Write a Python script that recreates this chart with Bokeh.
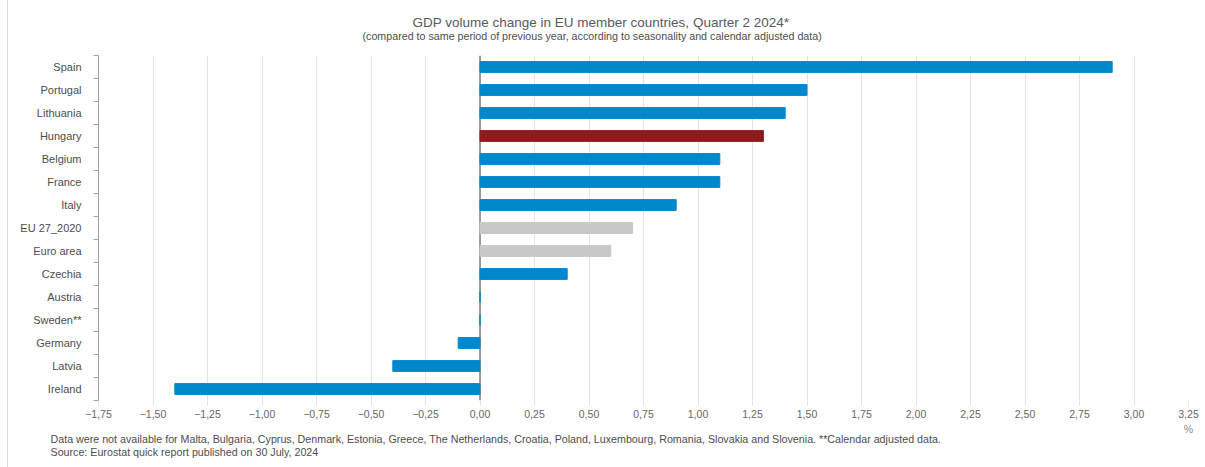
from bokeh.plotting import figure
from bokeh.models import (Range1d, LinearAxis, FixedTicker, Span, Title, ColumnDataSource)
from bokeh.embed import file_html
from bokeh.resources import INLINE

categories = ["Spain", "Portugal", "Lithuania", "Hungary", "Belgium", "France", "Italy",
              "EU 27_2020", "Euro area", "Czechia", "Austria", "Sweden**", "Germany",
              "Latvia", "Ireland"]
values = [2.9, 1.5, 1.4, 1.3, 1.1, 1.1, 0.9, 0.7, 0.6, 0.4, 0.0, 0.0, -0.1, -0.4, -1.4]
kinds = ["country", "country", "country", "highlight", "country", "country", "country",
         "aggregate", "aggregate", "country", "country", "country", "country", "country",
         "country"]
x_ticks = [-1.75, -1.5, -1.25, -1.0, -0.75, -0.5, -0.25, 0.0, 0.25, 0.5, 0.75, 1.0,
           1.25, 1.5, 1.75, 2.0, 2.25, 2.5, 2.75, 3.0, 3.25]

title_text = "GDP volume change in EU member countries, Quarter 2 2024*"
subtitle_text = "(compared to same period of previous year, according to seasonality and calendar adjusted data)"
note_text = ("Data were not available for Malta, Bulgaria, Cyprus, Denmark, Estonia, Greece, "
             "The Netherlands, Croatia, Poland, Luxembourg, Romania, Slovakia and Slovenia. "
             "**Calendar adjusted data.")
source_text = "Source: Eurostat quick report published on 30 July, 2024"
unit_text = "%"

palette = {"country": "#0088CC", "highlight": "#8E1C1F", "aggregate": "#C8C8C8"}
colors = [palette[k] for k in kinds]

FONT = "Liberation Sans"
TXT = "#595959"

n = len(categories)
ypos = [n - 1 - i for i in range(n)]  # first category on top

p = figure(width=1197, height=467, output_backend="svg", toolbar_location=None,
           x_range=Range1d(x_ticks[0], x_ticks[-1]),
           y_range=Range1d(-0.5, n - 0.5),
           x_axis_location=None, y_axis_location=None,
           min_border_left=90, min_border_right=17, min_border_top=55, min_border_bottom=67)
p.outline_line_color = None
p.background_fill_color = "white"
p.border_fill_color = "white"
p.styles = {"margin-left": "7px", "border-left": "1px solid #dcdcdc"}

# gridlines
p.ygrid.visible = False
p.xgrid.ticker = FixedTicker(ticks=x_ticks)
p.xgrid.grid_line_color = "#e3e3e3"
p.xgrid.grid_line_width = 1

# x axis (below)
xaxis = LinearAxis(ticker=FixedTicker(ticks=x_ticks))
xaxis.major_label_overrides = {t: f"{t:.2f}".replace(".", ",").replace("-", "\u2212") for t in x_ticks}
xaxis.axis_line_color = None
xaxis.major_tick_in = 0
xaxis.major_tick_out = 5
xaxis.major_tick_line_color = "#e3e3e3"
xaxis.minor_tick_line_color = None
xaxis.major_label_standoff = 4
xaxis.major_label_text_font = FONT
xaxis.major_label_text_font_size = "10.5px"
xaxis.major_label_text_color = "#666666"
p.add_layout(xaxis, "below")

# unit label under the last x tick
unit_axis = LinearAxis(ticker=FixedTicker(ticks=[x_ticks[-1]]))
unit_axis.major_label_overrides = {x_ticks[-1]: unit_text}
unit_axis.axis_line_color = None
unit_axis.major_tick_line_color = None
unit_axis.major_tick_in = 0
unit_axis.major_tick_out = 0
unit_axis.minor_tick_line_color = None
unit_axis.major_label_standoff = 2
unit_axis.major_label_text_font = FONT
unit_axis.major_label_text_font_size = "10.5px"
unit_axis.major_label_text_color = "#888888"
p.add_layout(unit_axis, "below")

# y axis: category labels at centres, tick marks at category boundaries
yaxis = LinearAxis(ticker=FixedTicker(ticks=ypos, minor_ticks=[k - 0.5 for k in range(n + 1)]))
yaxis.major_label_overrides = {y: c for y, c in zip(ypos, categories)}
yaxis.axis_line_color = "#a0a0a0"
yaxis.major_tick_line_color = None
yaxis.major_tick_out = 0
yaxis.major_tick_in = 0
yaxis.minor_tick_line_color = "#a0a0a0"
yaxis.minor_tick_out = 5
yaxis.minor_tick_in = 0
yaxis.major_label_standoff = 12
yaxis.major_label_text_font = FONT
yaxis.major_label_text_font_size = "11px"
yaxis.major_label_text_color = "#4d4d4d"
p.add_layout(yaxis, "left")

# zero line
p.add_layout(Span(location=0, dimension="height", line_color="#808080", line_width=1.5,
                  level="underlay"))

src = ColumnDataSource(dict(y=ypos, val=values, color=colors))
p.hbar(y="y", left=0, right="val", height=0.47, source=src,
       fill_color="color", line_color="color", line_width=1)

# titles (above): first added sits closest to the frame
p.add_layout(Title(text=subtitle_text, align="left", offset=264, standoff=27,
                   text_font=FONT, text_font_size="10.7px", text_font_style="normal",
                   text_color="#4d4d4d"), "above")
p.add_layout(Title(text=title_text, align="left", offset=314, standoff=-30,
                   text_font=FONT, text_font_size="13.5px", text_font_style="normal",
                   text_color=TXT), "above")

# footnotes (below)
p.add_layout(Title(text=note_text, align="left", offset=-48, standoff=-14,
                   text_font=FONT, text_font_size="10.7px", text_font_style="normal",
                   text_color="#4d4d4d"), "below")
p.add_layout(Title(text=source_text, align="left", offset=-48, standoff=12,
                   text_font=FONT, text_font_size="10.7px", text_font_style="normal",
                   text_color="#4d4d4d"), "below")

open("out.html", "w").write(file_html(p, INLINE))
